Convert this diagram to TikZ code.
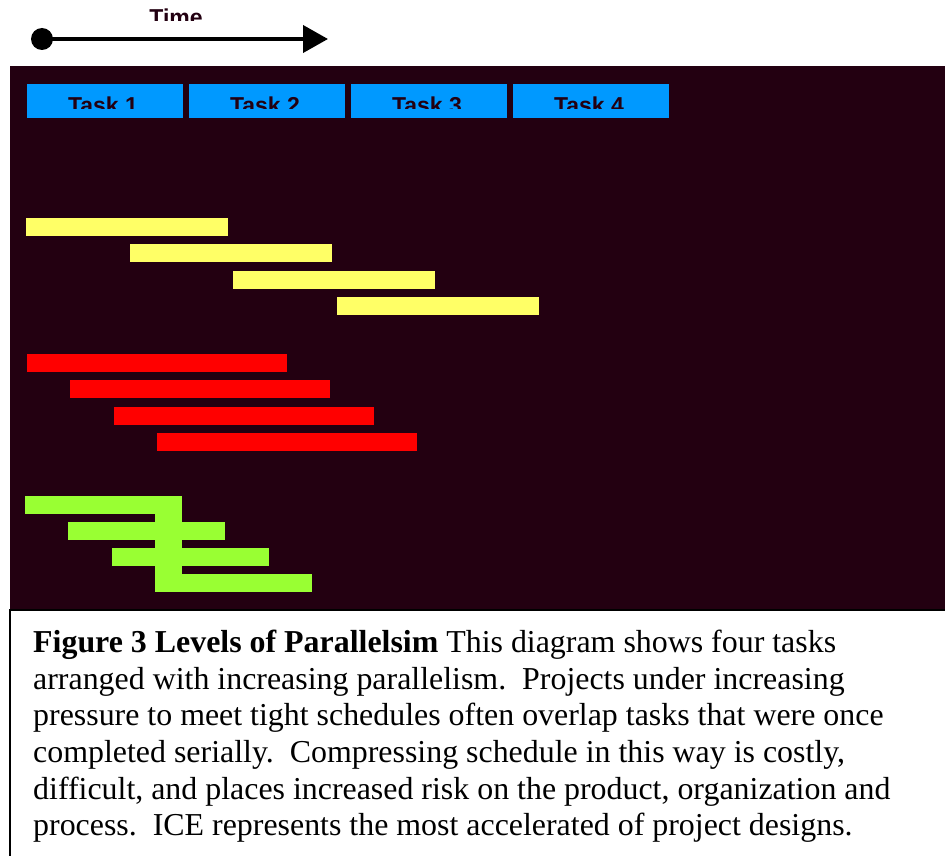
\documentclass[tikz,border=0pt]{standalone}
\usepackage{fontspec}
\setmainfont{Liberation Serif}
\newfontfamily\labelfont{Liberation Sans}
\usetikzlibrary{arrows.meta, positioning}

\definecolor{panel}{RGB}{35,0,17}
\definecolor{taskblue}{RGB}{0,153,255}
\definecolor{serialyellow}{RGB}{255,255,102}
\definecolor{overlapred}{RGB}{255,0,0}
\definecolor{icegreen}{RGB}{153,255,51}

\begin{document}
\begin{tikzpicture}[
    x=1pt, y=-1pt,
    bar/.style={
        anchor=north west,
        inner sep=0pt,
        outer sep=0pt,
        minimum height=18pt
    },
    taskbox/.style={bar, fill=taskblue, minimum width=156pt, minimum height=34pt},
    tasklabel/.style={
        anchor=base,
        inner sep=0pt,
        text=panel,
        font=\labelfont\bfseries\fontsize{23}{27}\selectfont
    },
    timearrow/.style={line width=4pt, -{Triangle[length=25pt,width=27pt]}}
]
\useasboundingbox (0,0) rectangle (945,856);

% ------------------------
% Time axis
% ------------------------
\node[circle, fill=black, minimum size=22pt, inner sep=0pt] (t0) at (42,39) {};
\coordinate (t1) at (328,39);
\draw[timearrow] (t0.center) -- (t1);
\begin{scope}
\clip (0,0) rectangle (945,21);
\node[tasklabel] (time) at (176,26) {Time};
\end{scope}

% ------------------------
% Background panel
% ------------------------
\fill[panel] (10,66) rectangle (950,610);

% ------------------------
% Serial tasks
% ------------------------
\foreach \i in {1,...,4} {
    \node[taskbox] (task\i) at ({27+162*(\i-1)},84) {};
}
\begin{scope}
\clip (0,66) rectangle (945,109);
\foreach \i in {1,...,4} {
    \node[tasklabel] (label\i) at ([xshift=-2pt,yshift=-13pt]task\i.center) {Task \i};
}
\end{scope}

% ------------------------
% Overlapping levels
% ------------------------
\foreach \i in {1,...,4} {
    \node[bar, fill=serialyellow, minimum width=202pt] (yellow\i) at ({26+103.7*(\i-1)},{218+26.3*(\i-1)}) {};
    \node[bar, fill=overlapred, minimum width=260pt] (red\i) at ({27+43.3*(\i-1)},{354+26.3*(\i-1)}) {};
    \node[bar, fill=icegreen, minimum width=157pt] (green\i) at ({25+43.3*(\i-1)},{496+26*(\i-1)}) {};
}
\node[bar, fill=icegreen, minimum width=27pt, minimum height=96pt] (column) at (155,496) {};

% ------------------------
% Caption
% ------------------------
\draw[line width=1.5pt] (10,610) rectangle (950,860);
\node[anchor=north west, inner sep=0pt, align=left,
      font=\fontsize{31.9}{36.6}\selectfont] (caption) at (33,630) {
\textbf{Figure 3 Levels of Parallelsim} This diagram shows four tasks\\
arranged with increasing parallelism.\ \ Projects under increasing\\
pressure to meet tight schedules often overlap tasks that were once\\
completed serially.\ \ Compressing schedule in this way is costly,\\
difficult, and places increased risk on the product, organization and\\
process.\ \ ICE represents the most accelerated of project designs.
};

\end{tikzpicture}
\end{document}
